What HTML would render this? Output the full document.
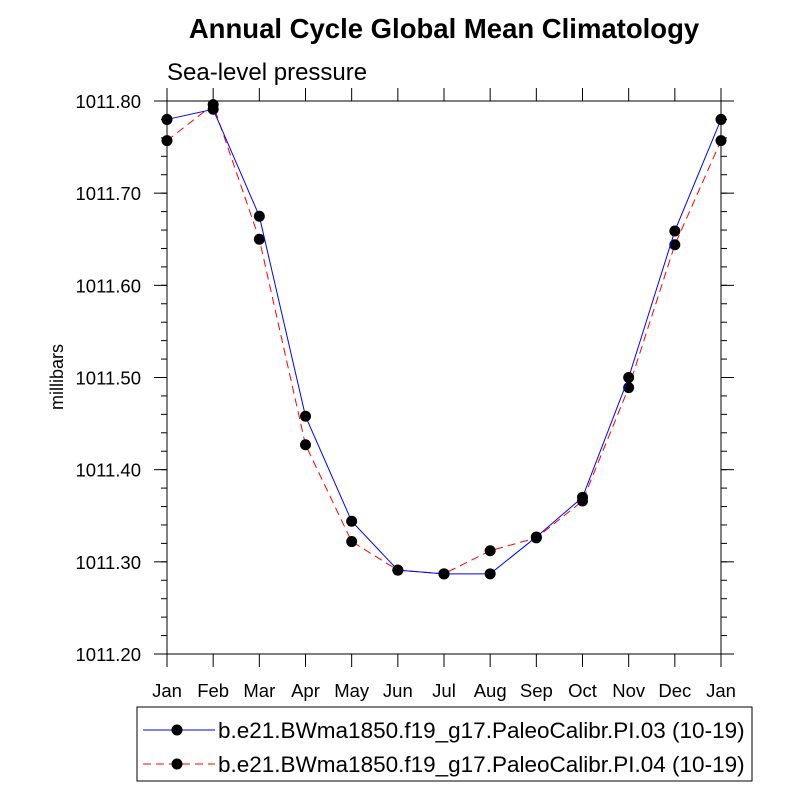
<!DOCTYPE html>
<html><head><meta charset="utf-8"><style>
body{margin:0;background:#fff;}
svg text{font-family:"Liberation Sans",sans-serif;}
</style></head><body>
<svg id="chart" width="800" height="800">
<text x="444" y="38" text-anchor="middle" font-size="27.5" font-weight="bold">Annual Cycle Global Mean Climatology</text>
<text x="167" y="80" font-size="24">Sea-level pressure</text>
<text transform="translate(63,377) rotate(-90)" text-anchor="middle" font-size="18">millibars</text>
<g id="axes"></g>
<g id="series"></g>
<g>
<rect x="137" y="707" width="615" height="74" fill="#fff" stroke="#000" stroke-width="1"/>
<g>
<line x1="143" y1="730" x2="215" y2="730" stroke="#00f" stroke-width="1"/>
<circle cx="177" cy="730" r="5.5" fill="#000"/>
<text x="218" y="738" font-size="22.5">b.e21.BWma1850.f19_g17.PaleoCalibr.PI.03 (10-19)</text>
</g>
<g>
<line x1="143" y1="764" x2="215" y2="764" stroke="#f00" stroke-width="1" stroke-dasharray="8,5"/>
<circle cx="177" cy="764" r="5.5" fill="#000"/>
<text x="218" y="772" font-size="22.5">b.e21.BWma1850.f19_g17.PaleoCalibr.PI.04 (10-19)</text>
</g>
</g>
</svg>
<script>
const months = ["Jan","Feb","Mar","Apr","May","Jun","Jul","Aug","Sep","Oct","Nov","Dec","Jan"];
const yTicks = [1011.20,1011.30,1011.40,1011.50,1011.60,1011.70,1011.80];
const seriesPI03 = [1011.780,1011.791,1011.675,1011.458,1011.344,1011.291,1011.287,1011.287,1011.327,1011.370,1011.500,1011.659,1011.780];
const seriesPI04 = [1011.757,1011.796,1011.650,1011.427,1011.322,1011.291,1011.287,1011.312,1011.326,1011.366,1011.489,1011.644,1011.757];

const NS="http://www.w3.org/2000/svg";
const L=167,R=721,T=101,B=654,ymin=1011.2,ymax=1011.8;
const xs=i=>L+(R-L)*i/(months.length-1);
const ys=v=>B-(v-ymin)/(ymax-ymin)*(B-T);
function mk(tag,attrs,parent){const e=document.createElementNS(NS,tag);for(const k in attrs)e.setAttribute(k,attrs[k]);parent.appendChild(e);return e;}
const ax=document.getElementById('axes');
const frame=mk('rect',{x:L,y:T,width:R-L,height:B-T,fill:'none',stroke:'#000','stroke-width':1},ax);


months.forEach((m,i)=>{
  const x=xs(i);
  mk('line',{x1:x,y1:B,x2:x,y2:B+13,stroke:'#000'},ax);
  mk('line',{x1:x,y1:T,x2:x,y2:T-13,stroke:'#000'},ax);
  const t=mk('text',{x:x,y:B+43,'text-anchor':'middle','font-size':18.5},ax);
  t.textContent=m;
  
  
});
for(let v=ymin;v<=ymax+1e-9;v+=0.02){
  const y=ys(v);
  mk('line',{x1:L,y1:y,x2:L-6,y2:y,stroke:'#000'},ax);
  mk('line',{x1:R,y1:y,x2:R+6,y2:y,stroke:'#000'},ax);
}
yTicks.forEach(v=>{
  const y=ys(v);
  mk('line',{x1:L,y1:y,x2:L-13,y2:y,stroke:'#000'},ax);
  mk('line',{x1:R,y1:y,x2:R+13,y2:y,stroke:'#000'},ax);
  const t=mk('text',{x:L-26,y:y+7,'text-anchor':'end','font-size':18.5},ax);
  t.textContent=v.toFixed(2);
  
  
});
const sg=document.getElementById('series');
function draw(data,color,dash,name){
  const g=mk('g',{},sg);
  
  
  const p=mk('polyline',{points:data.map((v,i)=>xs(i)+','+ys(v)).join(' '),fill:'none',stroke:color,'stroke-width':1},g);
  if(dash)p.setAttribute('stroke-dasharray',dash);
  data.forEach((v,i)=>{
    const c=mk('circle',{cx:xs(i),cy:ys(v),r:5.5,fill:'#000'},g);
    
    
  });
}
draw(seriesPI04,'#f00','8,5','series-pi04');
draw(seriesPI03,'#00f',null,'series-pi03');
</script>
</body></html>
